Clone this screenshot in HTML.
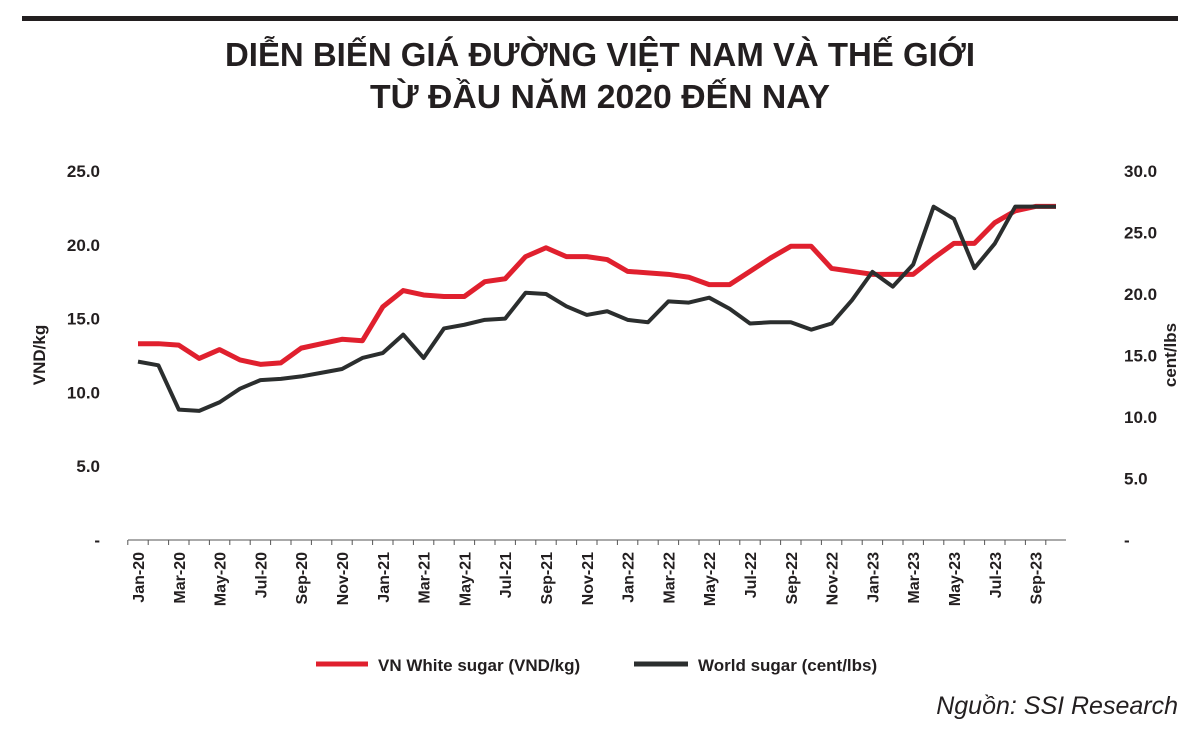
<!DOCTYPE html>
<html><head><meta charset="utf-8"><style>
body{margin:0;background:#fff;width:1200px;height:732px;overflow:hidden;font-family:"Liberation Sans",sans-serif}
svg text{font-family:"Liberation Sans","Noto Sans CJK SC",sans-serif}
</style></head><body>
<svg width="1200" height="732">
<rect x="22" y="16" width="1156" height="5" fill="#231f20"/>
<g font-weight="bold" font-size="33" fill="#231f20" text-anchor="middle">
<text x="600" y="66" textLength="750" lengthAdjust="spacingAndGlyphs">DIỄN BIẾN GIÁ ĐƯỜNG VIỆT NAM VÀ THẾ GIỚI</text>
<text x="600" y="108" textLength="460" lengthAdjust="spacingAndGlyphs">TỪ ĐẦU NĂM 2020 ĐẾN NAY</text>
</g>
<g id="lt"></g>
<g id="rt"></g>
<g id="xt"></g>
<line x1="128" y1="540" x2="1066" y2="540" stroke="#555" stroke-width="1"/>
<text transform="translate(45,355) rotate(-90)" text-anchor="middle" font-size="17" font-weight="bold" fill="#231f20">VND/kg</text>
<text transform="translate(1176,355) rotate(-90)" text-anchor="middle" font-size="17" font-weight="bold" fill="#231f20">cent/lbs</text>
<path id="red" fill="none" stroke="#e0202e" stroke-width="5" stroke-linejoin="round"/>
<path id="blk" fill="none" stroke="#2b2e2e" stroke-width="4" stroke-linejoin="round"/>
<g font-size="17" font-weight="bold" fill="#231f20">
<line x1="316" y1="664" x2="368" y2="664" stroke="#e0202e" stroke-width="5"/>
<text x="378" y="671">VN White sugar (VND/kg)</text>
<line x1="634" y1="664" x2="688" y2="664" stroke="#2b2e2e" stroke-width="5"/>
<text x="698" y="671">World sugar (cent/lbs)</text>
</g>
<text x="1178" y="714" text-anchor="end" font-size="25" font-style="italic" fill="#231f20">Nguồn: SSI Research</text>
</svg>
<script>
const months=["Jan","Feb","Mar","Apr","May","Jun","Jul","Aug","Sep","Oct","Nov","Dec"];
const categories=[];for(let i=0;i<46;i++)categories.push(months[i%12]+"-"+(20+Math.floor(i/12)));
const vnSugar=[13.3,13.3,13.2,12.3,12.9,12.2,11.9,12.0,13.0,13.3,13.6,13.5,15.8,16.9,16.6,16.5,16.5,17.5,17.7,19.2,19.8,19.2,19.2,19.0,18.2,18.1,18.0,17.8,17.3,17.3,18.2,19.1,19.9,19.9,18.4,18.2,18.0,18.0,18.0,19.1,20.1,20.1,21.5,22.3,22.6,22.6];
const worldSugar=[14.5,14.2,10.6,10.5,11.2,12.3,13.0,13.1,13.3,13.6,13.9,14.8,15.2,16.7,14.8,17.2,17.5,17.9,18.0,20.1,20.0,19.0,18.3,18.6,17.9,17.7,19.4,19.3,19.7,18.8,17.6,17.7,17.7,17.1,17.6,19.5,21.8,20.6,22.4,27.1,26.1,22.1,24.1,27.1,27.1,27.1];
const leftTicks=["-","5.0","10.0","15.0","20.0","25.0"];
const rightTicks=["-","5.0","10.0","15.0","20.0","25.0","30.0"];
const NS="http://www.w3.org/2000/svg";
const x=i=>138+i*20.4;
const yL=v=>540-v*14.76;
const yR=v=>540-v*12.3;
function mk(p,tag,attrs,txt){const e=document.createElementNS(NS,tag);for(const k in attrs)e.setAttribute(k,attrs[k]);if(txt)e.textContent=txt;p.appendChild(e);return e;}
const lt=document.getElementById('lt');
leftTicks.forEach((t,i)=>{const e=mk(lt,'text',{x:100,y:yL(i*5)+6,'text-anchor':'end','font-size':17,'font-weight':'bold',fill:'#231f20'},t);

});
const rt=document.getElementById('rt');
rightTicks.forEach((t,i)=>{const e=mk(rt,'text',{x:1124,y:yR(i*5)+6,'font-size':17,'font-weight':'bold',fill:'#231f20'},t);

});
const xt=document.getElementById('xt');
categories.forEach((c,i)=>{
const tk=mk(xt,'line',{x1:x(i)-10.2,y1:540,x2:x(i)-10.2,y2:545,stroke:'#555'});


if(i%2==0){const e=mk(xt,'text',{transform:`translate(${x(i)+6},552) rotate(-90)`,'text-anchor':'end','font-size':16,'font-weight':'bold',fill:'#231f20'},c);

}});
document.getElementById('red').setAttribute('d',vnSugar.map((v,i)=>(i?'L':'M')+x(i)+' '+yL(v)).join(''));
document.getElementById('blk').setAttribute('d',worldSugar.map((v,i)=>(i?'L':'M')+x(i)+' '+yR(v)).join(''));
</script>
</body></html>
